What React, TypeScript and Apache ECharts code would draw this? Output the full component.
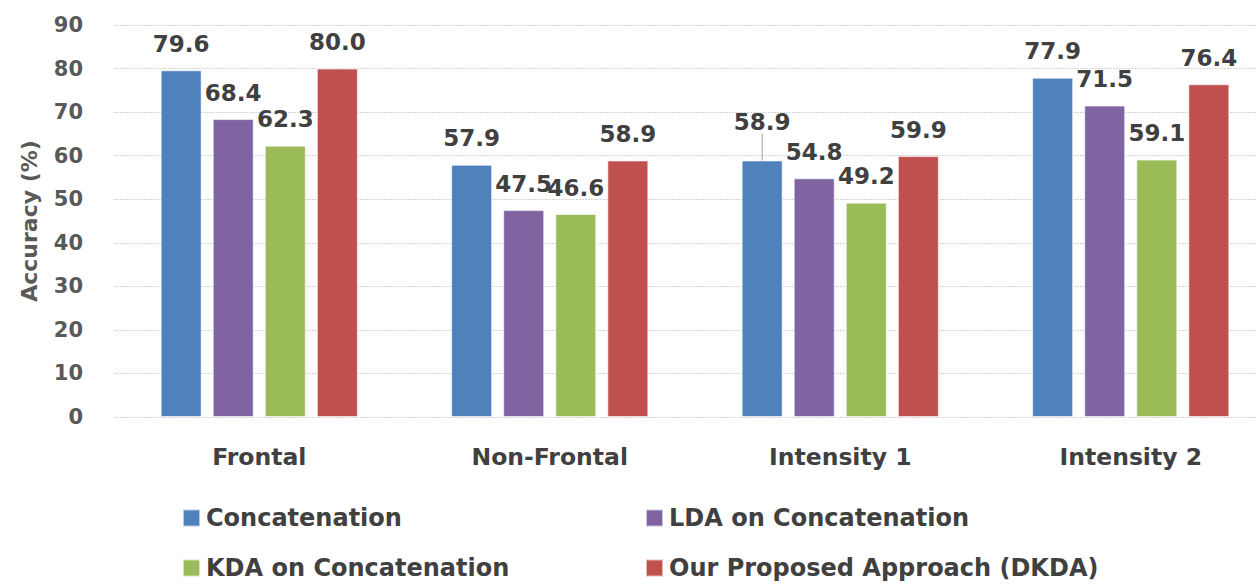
import React, { useEffect, useRef } from "react";
import * as echarts from "echarts";

const categories = ["Frontal", "Non-Frontal", "Intensity 1", "Intensity 2"];
const seriesNames = [
  "Concatenation",
  "LDA on Concatenation",
  "KDA on Concatenation",
  "Our Proposed Approach (DKDA)",
];
const concatenation = [79.6, 57.9, 58.9, 77.9];
const ldaOnConcat = [68.4, 47.5, 54.8, 71.5];
const kdaOnConcat = [62.3, 46.6, 49.2, 59.1];
const dkda = [80.0, 58.9, 59.9, 76.4];
const colors = ["#4F81BD", "#8064A2", "#9BBB59", "#C0504D"];
const yTicks = { min: 0, max: 90, interval: 10 };

const FONT = "DejaVu Sans";

export default function App() {
  const ref = useRef<HTMLDivElement>(null);
  useEffect(() => {
    if (!ref.current) return;
    const chart = echarts.init(ref.current, null, { renderer: "svg" });
    const all = [concatenation, ldaOnConcat, kdaOnConcat, dkda];
    const series = all.map((vals, si) => ({
      name: seriesNames[si],
      type: "bar",
      data: vals.map((v, di) =>
        si === 0
          ? { value: v, labelLine: { show: di === 2 } }
          : { value: v }
      ),
      barWidth: 41,
      barGap: "27%",
      itemStyle: { color: colors[si], borderColor: "rgba(255,255,255,0.6)", borderWidth: 1 },
      label: {
        show: true,
        position: "top",
        distance: 15,
        formatter: (p: any) => Number(p.value).toFixed(1),
        fontFamily: FONT,
        fontWeight: "bold",
        fontSize: 23,
        color: "#404040",
      },
      labelLayout:
        si === 0
          ? (p: any) => (p.dataIndex === 2 ? { dy: -12 } : {})
          : undefined,
      labelLine:
        si === 0
          ? { show: false, length2: 0, lineStyle: { color: "#a6a6a6", width: 1 } }
          : undefined,
    }));

    const legendPos = [
      { left: 182, top: 506 },
      { left: 645, top: 506 },
      { left: 182, top: 556 },
      { left: 645, top: 556 },
    ];
    const legends = seriesNames.map((n, i) => ({
      data: [n],
      left: legendPos[i].left,
      top: legendPos[i].top,
      orient: "horizontal",
      itemWidth: 17,
      itemHeight: 17,
      itemGap: 8,
      icon: "rect",
      padding: 0,
      textStyle: { fontFamily: FONT, fontWeight: "bold", fontSize: 24, color: "#404040", padding: [0, 0, 0, 1] },
    }));

    chart.setOption({
      animation: false,
      backgroundColor: "#ffffff",
      grid: { left: 114, top: 25, width: 1162, height: 392, containLabel: false },
      legend: legends,
      xAxis: {
        type: "category",
        data: categories,
        axisLine: { show: false },
        axisTick: { show: false },
        axisLabel: {
          fontFamily: FONT,
          fontWeight: "bold",
          fontSize: 23.5,
          color: "#404040",
          margin: 28,
        },
      },
      yAxis: {
        type: "value",
        min: yTicks.min,
        max: yTicks.max,
        interval: yTicks.interval,
        name: "Accuracy (%)",
        nameLocation: "middle",
        nameGap: 74,
        nameTextStyle: { fontFamily: FONT, fontWeight: "bold", fontSize: 22, color: "#595959" },
        axisLabel: {
          fontFamily: FONT,
          fontWeight: "bold",
          fontSize: 21,
          color: "#595959",
          margin: 31,
        },
        axisLine: { show: false },
        axisTick: { show: false },
        splitLine: { lineStyle: { color: "#d4d4d4", type: [2, 1], width: 1 } },
      },
      series,
    });
    return () => chart.dispose();
  }, []);
  return (
    <div
      style={{ position: "fixed", left: 0, top: 0, width: 1257, height: 584, overflow: "hidden" }}
    >
      <div ref={ref} style={{ width: 1300, height: 584 }} />
    </div>
  );
}
